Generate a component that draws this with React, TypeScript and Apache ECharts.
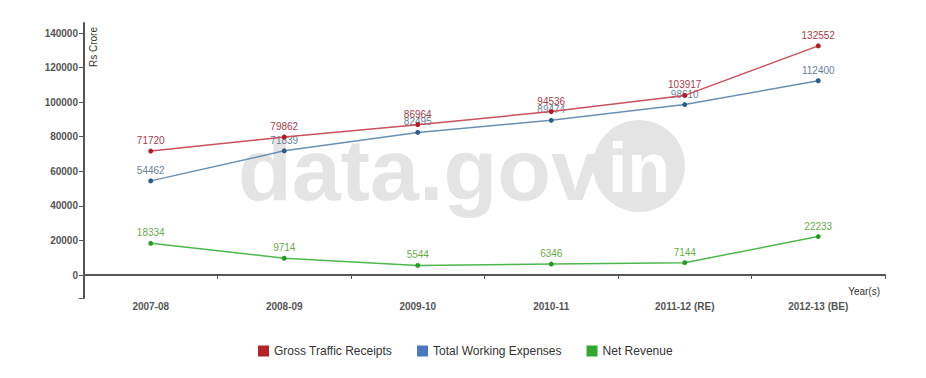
import React, { useEffect, useRef } from "react";
import * as echarts from "echarts";

const categories = ["2007-08", "2008-09", "2009-10", "2010-11", "2011-12 (RE)", "2012-13 (BE)"];
const grossTrafficReceipts = [71720, 79862, 86964, 94536, 103917, 132552];
const totalWorkingExpenses = [54462, 71839, 82495, 89474, 98610, 112400];
const netRevenue = [18334, 9714, 5544, 6346, 7144, 22233];
const yTicks = [0, 20000, 40000, 60000, 80000, 100000, 120000, 140000];
const yMin = -13300;
const yMax = 145800;

const FONT = "'Liberation Sans', Arial, sans-serif";

export default function App() {
  const ref = useRef<HTMLDivElement>(null);
  useEffect(() => {
    document.body.style.margin = "0";
    const chart = echarts.init(ref.current!, null, { renderer: "svg" });
    const mk = (name: string, data: number[], line: string, point: string, label: string, z: number) => ({
      name,
      type: "line",
      data,
      z,
      symbol: "circle",
      symbolSize: 5,
      lineStyle: { color: line, width: 1.5 },
      itemStyle: { color: point },
      label: {
        show: true,
        position: "top",
        distance: 3,
        color: label,
        fontSize: 10,
        fontFamily: FONT,
      },
    });
    chart.setOption({
      animation: false,
      color: ["#b5222a", "#4a77bd", "#33a532"],
      grid: { left: 84, right: 41, top: 23, bottom: 80, containLabel: false },
      legend: {
        left: 253,
        top: 340,
        icon: "rect",
        itemWidth: 11,
        itemHeight: 11,
        itemGap: 25,
        textStyle: { fontSize: 12, color: "#333", fontFamily: FONT },
        data: [
          { name: "Gross Traffic Receipts", itemStyle: { color: "#b5222a" } },
          { name: "Total Working Expenses", itemStyle: { color: "#4a77bd" } },
          { name: "Net Revenue", itemStyle: { color: "#33a532" } },
        ],
      },
      xAxis: {
        type: "category",
        data: categories,
        boundaryGap: true,
        axisLine: { lineStyle: { color: "#555", width: 2 } },
        axisTick: { show: true, length: 4, lineStyle: { color: "#555" } },
        axisLabel: { fontSize: 10, color: "#555", fontWeight: "bold", fontFamily: FONT, margin: 3 },
      },
      yAxis: {
        type: "value",
        min: yMin,
        max: yMax,
        splitLine: { show: false },
        axisLine: { show: true, lineStyle: { color: "#555", width: 2 } },
        axisTick: { show: true, length: 5, lineStyle: { color: "#555" }, customValues: [yMin, ...yTicks] },
        axisLabel: {
          fontSize: 10,
          color: "#555",
          fontWeight: "bold",
          fontFamily: FONT,
          margin: 6,
          customValues: yTicks,
          formatter: (v: number) => String(v),
        },
      },
      graphic: [
        {
          type: "text",
          z: -10,
          x: 238,
          y: 125,
          style: {
            text: "data.gov",
            fill: "#e4e4e4",
            fontSize: 88,
            fontWeight: "bold",
            fontFamily: FONT,
            textVerticalAlign: "top",
          },
        },
        {
          type: "circle",
          z: -10,
          shape: { cx: 639, cy: 166, r: 46 },
          style: { fill: "#e4e4e4" },
        },
        {
          type: "text",
          z: -9,
          x: 639,
          y: 168,
          style: {
            text: "in",
            fill: "#ffffff",
            fontSize: 70,
            fontWeight: "bold",
            fontFamily: FONT,
            align: "center",
            verticalAlign: "middle",
          },
        },
        {
          type: "text",
          x: 88,
          y: 27,
          rotation: Math.PI / 2,
          style: {
            text: "Rs Crore",
            fill: "#333",
            fontSize: 10,
            fontFamily: FONT,
            align: "right",
            verticalAlign: "top",
          },
        },
        {
          type: "text",
          x: 880,
          y: 296,
          style: {
            text: "Year(s)",
            fill: "#333",
            fontSize: 10,
            fontFamily: FONT,
            align: "right",
            verticalAlign: "bottom",
          },
        },
      ],
      series: [
        mk("Gross Traffic Receipts", grossTrafficReceipts, "#c9505c", "#b01c28", "#a3404a", 3),
        mk("Total Working Expenses", totalWorkingExpenses, "#6a8fb5", "#2d5d8a", "#6a7f9a", 2),
        mk("Net Revenue", netRevenue, "#4cb84c", "#2a9a2a", "#6aab4a", 1),
      ],
    });
    return () => chart.dispose();
  }, []);
  return <div ref={ref} style={{ width: 926, height: 378 }} />;
}
